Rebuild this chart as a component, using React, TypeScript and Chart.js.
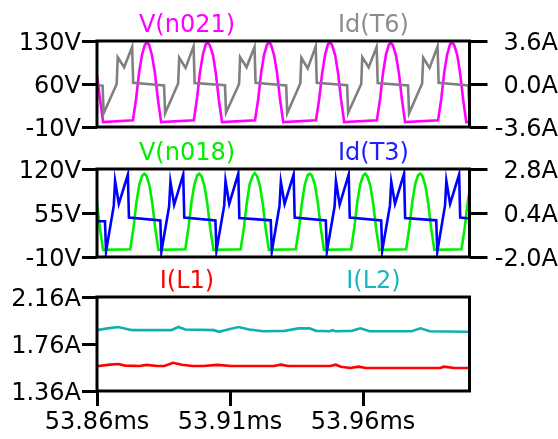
import React, { useEffect, useRef } from 'react';
import { Chart, registerables } from 'chart.js';

Chart.register(...registerables);

// ---------- data (time in microseconds) ----------
const X_MIN = 53860;
const X_MAX = 54000;
const TIME_TICKS = [53860, 53910, 53960];
const TIME_TICK_LABELS = ['53.86ms', '53.91ms', '53.96ms'];

const V_N021_TICKS = [-10, 60, 130];
const V_N021_TICK_LABELS = ['-10V', '60V', '130V'];
const ID_T6_TICKS = [-3.6, 0, 3.6];
const ID_T6_TICK_LABELS = ['-3.6A', '0.0A', '3.6A'];
const V_N018_TICKS = [-10, 55, 120];
const V_N018_TICK_LABELS = ['-10V', '55V', '120V'];
const ID_T3_TICKS = [-2.0, 0.4, 2.8];
const ID_T3_TICK_LABELS = ['-2.0A', '0.4A', '2.8A'];
const I_L_TICKS = [1.36, 1.76, 2.16];
const I_L_TICK_LABELS = ['1.36A', '1.76A', '2.16A'];

const V_N021_T = [
  53860.0, 53861.0, 53862.3,
  53873.5, 53874.7, 53875.8, 53876.9, 53878.0, 53878.8, 53879.6, 53880.7, 53881.8, 53882.9, 53884.1,
  53896.4, 53897.6, 53898.7, 53899.8, 53900.9, 53901.7, 53902.4, 53903.6, 53904.7, 53905.8, 53907.0,
  53919.4, 53920.6, 53921.7, 53922.8, 53923.9, 53924.7, 53925.4, 53926.6, 53927.7, 53928.8, 53930.0,
  53942.3, 53943.5, 53944.6, 53945.7, 53946.8, 53947.6, 53948.3, 53949.5, 53950.6, 53951.7, 53952.9,
  53965.2, 53966.4, 53967.5, 53968.6, 53969.7, 53970.5, 53971.2, 53972.4, 53973.5, 53974.6, 53975.8,
  53988.2, 53989.4, 53990.5, 53991.6, 53992.7, 53993.5, 53994.2, 53995.4, 53996.5, 53997.6, 53998.8, 54000.0,
];
const V_N021_V = [
  74, 40, -2,
  1, 36, 78, 107, 124, 127, 124, 106, 77, 35, -2,
  1, 37, 79, 108, 125, 127, 123, 107, 76, 34, -2,
  1, 36, 78, 108, 124, 128, 124, 106, 77, 35, -2,
  1, 35, 77, 107, 125, 127, 124, 107, 78, 36, -2,
  1, 36, 78, 108, 124, 127, 123, 106, 77, 35, -2,
  1, 36, 79, 108, 125, 127, 124, 107, 77, 35, -2, -2,
];

const ID_T6_T = [
  53860.0,
  53862.1, 53862.5, 53867.4, 53867.8, 53870.2, 53873.2, 53873.6,
  53885.2, 53885.6, 53890.5, 53890.9, 53893.3, 53896.3, 53896.7,
  53908.1, 53908.5, 53913.4, 53913.8, 53916.2, 53919.2, 53919.6,
  53931.1, 53931.5, 53936.4, 53936.8, 53939.2, 53942.2, 53942.6,
  53954.0, 53954.4, 53959.3, 53959.7, 53962.1, 53965.1, 53965.5,
  53976.9, 53977.3, 53982.2, 53982.6, 53985.0, 53988.0, 53988.4,
  53999.6, 54000.0,
];
const ID_T6_V = [
  -0.1,
  -0.15, -2.45, 0.0, 2.25, 1.4, 3.1, 0.1,
  -0.12, -2.45, 0.05, 2.2, 1.35, 3.15, 0.08,
  -0.1, -2.4, 0.0, 2.25, 1.4, 3.1, 0.1,
  -0.12, -2.45, 0.05, 2.2, 1.3, 3.15, 0.1,
  -0.1, -2.4, 0.0, 2.25, 1.4, 3.1, 0.08,
  -0.12, -2.45, 0.05, 2.2, 1.35, 3.15, 0.1,
  -0.12, -2.4,
];

const V_N018_T = [
  53860.0, 53861.1, 53862.3,
  53872.5, 53873.7, 53874.8, 53875.9, 53877.0, 53877.8, 53878.6, 53879.7, 53880.8, 53881.9, 53883.1,
  53893.2, 53894.4, 53895.5, 53896.6, 53897.7, 53898.5, 53899.3, 53900.4, 53901.5, 53902.6, 53903.8,
  53914.0, 53915.2, 53916.3, 53917.4, 53918.5, 53919.3, 53920.1, 53921.2, 53922.3, 53923.4, 53924.6,
  53934.7, 53935.9, 53937.0, 53938.1, 53939.2, 53940.0, 53940.8, 53941.9, 53943.0, 53944.1, 53945.3,
  53955.5, 53956.7, 53957.8, 53958.9, 53960.0, 53960.8, 53961.6, 53962.7, 53963.8, 53964.9, 53966.1,
  53976.2, 53977.4, 53978.5, 53979.6, 53980.7, 53981.5, 53982.3, 53983.4, 53984.5, 53985.6, 53986.8,
  53997.0, 53998.2, 53999.3, 54000.4,
];
const V_N018_V = [
  70, 32, 0.5,
  1.5, 33, 70, 97, 110, 113, 110, 96, 69, 32, 0.5,
  1.5, 34, 71, 97, 111, 113, 109, 95, 68, 31, 0.5,
  1.5, 33, 70, 98, 110, 114, 110, 96, 69, 32, 0.5,
  1.5, 32, 69, 97, 111, 113, 110, 97, 70, 33, 0.5,
  1.5, 33, 70, 97, 110, 113, 109, 96, 69, 32, 0.5,
  1.5, 34, 71, 98, 111, 113, 110, 96, 69, 32, 0.5,
  1.5, 33, 70, 97,
];

const ID_T3_T = [
  53860.0,
  53863.0, 53863.4, 53866.3, 53866.8, 53868.2, 53871.6, 53872.0,
  53883.8, 53884.2, 53887.1, 53887.6, 53889.0, 53892.4, 53892.8,
  53904.5, 53904.9, 53907.8, 53908.3, 53909.7, 53913.1, 53913.5,
  53925.3, 53925.7, 53928.6, 53929.1, 53930.5, 53933.9, 53934.3,
  53946.0, 53946.4, 53949.3, 53949.8, 53951.2, 53954.6, 53955.0,
  53966.8, 53967.2, 53970.1, 53970.6, 53972.0, 53975.4, 53975.8,
  53987.5, 53987.9, 53990.8, 53991.3, 53992.7, 53996.1, 53996.5,
  54000.0,
];
const ID_T3_V = [
  -0.05,
  -0.05, -1.7, 0.8, 2.15, 0.9, 2.5, 0.15,
  0.0, -1.7, 0.75, 2.1, 0.85, 2.5, 0.15,
  0.0, -1.65, 0.8, 2.15, 0.9, 2.55, 0.12,
  0.0, -1.7, 0.8, 2.1, 0.9, 2.5, 0.15,
  0.0, -1.7, 0.75, 2.15, 0.85, 2.5, 0.15,
  0.0, -1.65, 0.8, 2.1, 0.9, 2.55, 0.12,
  0.0, -1.7, 0.8, 2.15, 0.9, 2.5, 0.15,
  0.1,
];

const I_L1_T = [
  53860.0, 53864.0, 53868.0, 53870.6, 53876.0, 53878.6, 53882.6, 53885.3, 53888.6, 53891.9,
  53895.9, 53899.9, 53905.2, 53910.5, 53926.5, 53929.1, 53931.8, 53947.7, 53949.7, 53951.7,
  53955.1, 53958.4, 53961.0, 53989.0, 53990.3, 53994.3, 53998.9, 54000.0,
];
const I_L1_V = [
  1.570, 1.582, 1.590, 1.576, 1.573, 1.582, 1.573, 1.573, 1.600, 1.584,
  1.573, 1.573, 1.582, 1.573, 1.573, 1.584, 1.573, 1.573, 1.584, 1.567,
  1.556, 1.567, 1.556, 1.556, 1.567, 1.556, 1.556, 1.556,
];

const I_L2_T = [
  53860.0, 53864.0, 53868.0, 53872.0, 53873.3, 53887.9, 53890.6, 53893.2, 53903.9, 53905.9,
  53909.2, 53913.2, 53917.2, 53922.5, 53930.5, 53935.8, 53939.8, 53942.4, 53947.7, 53948.4,
  53949.7, 53955.7, 53959.0, 53962.4, 53978.3, 53981.6, 53985.0, 53998.9, 54000.0,
];
const I_L2_V = [
  1.878, 1.893, 1.905, 1.884, 1.878, 1.878, 1.905, 1.884, 1.878, 1.864,
  1.884, 1.905, 1.884, 1.869, 1.872, 1.893, 1.893, 1.872, 1.869, 1.878,
  1.869, 1.872, 1.893, 1.869, 1.869, 1.893, 1.869, 1.864, 1.864,
];

// ---------- layout & style ----------
const W = 558;
const H = 439;
const FONT = '"DejaVu Sans", Verdana, sans-serif';
const FONT_SIZE = 24;
const PLOT_LEFT = 97;
const PLOT_RIGHT = 469.5;
const LEFT_TITLE_X = 187;
const RIGHT_TITLE_X = 373.5;

const pts = (t: number[], v: number[]) => t.map((x, i) => ({ x, y: v[i] }));

const framePlugin = {
  id: 'paneFrame',
  afterDraw(chart: any, _args: any, opts: any) {
    const { ctx, chartArea: a } = chart;
    ctx.save();
    ctx.strokeStyle = '#000';
    ctx.lineWidth = 3;
    ctx.strokeRect(a.left, a.top, a.right - a.left, a.bottom - a.top);
    ctx.font = `${FONT_SIZE}px ${FONT}`;
    ctx.textAlign = 'center';
    ctx.textBaseline = 'alphabetic';
    (opts.titles || []).forEach((t: any) => {
      ctx.fillStyle = t.color;
      ctx.fillText(t.text, t.x, a.top - 9.5);
    });
    ctx.restore();
  },
};

function yAxis(side: 'left' | 'right', min: number, max: number, ticks: number[], labels: string[]) {
  return {
    type: 'linear',
    position: side,
    min,
    max,
    afterBuildTicks: (s: any) => {
      s.ticks = ticks.map((v) => ({ value: v }));
    },
    afterFit: (s: any) => {
      s.width = side === 'left' ? PLOT_LEFT : W - PLOT_RIGHT;
    },
    ticks: {
      autoSkip: false,
      padding: side === 'left' ? 1 : 2,
      labelOffset: 3,
      crossAlign: side === 'left' ? 'near' : 'far',
      color: '#000',
      font: { family: FONT, size: FONT_SIZE },
      callback: (_v: any, i: number) => labels[i],
    },
    grid: {
      drawOnChartArea: false,
      drawTicks: true,
      tickLength: side === 'left' ? 15 : 18,
      tickWidth: 3,
      lineWidth: 3,
      tickColor: '#000',
      color: '#000',
    },
    border: { display: false },
  };
}

function xAxis(show: boolean) {
  return {
    type: 'linear',
    min: X_MIN,
    max: X_MAX,
    display: show,
    afterBuildTicks: (s: any) => {
      s.ticks = TIME_TICKS.map((v) => ({ value: v }));
    },
    afterFit: (s: any) => {
      s.height = show ? 48 : 0;
    },
    ticks: {
      autoSkip: false,
      maxRotation: 0,
      minRotation: 0,
      padding: 2,
      color: '#000',
      font: { family: FONT, size: FONT_SIZE },
      callback: (_v: any, i: number) => TIME_TICK_LABELS[i],
    },
    grid: {
      drawOnChartArea: false,
      drawTicks: true,
      tickLength: 15,
      tickWidth: 3,
      lineWidth: 3,
      tickColor: '#000',
      color: '#000',
    },
    border: { display: false },
  };
}

function line(data: any[], color: string, axis: string, order: number) {
  return {
    data,
    borderColor: color,
    backgroundColor: color,
    borderWidth: 2.6,
    pointRadius: 0,
    tension: 0,
    fill: false,
    yAxisID: axis,
    order,
  };
}

function makeConfig(pane: number): any {
  const common = {
    responsive: false,
    animation: false,
    devicePixelRatio: 1,
    events: [],
  };
  const basePlugins = { legend: { display: false }, tooltip: { enabled: false } };
  if (pane === 1) {
    return {
      type: 'line',
      data: {
        datasets: [
          line(pts(V_N021_T, V_N021_V), '#ff00ff', 'y', 1),
          line(pts(ID_T6_T, ID_T6_V), '#808080', 'y1', 0),
        ],
      },
      options: {
        ...common,
        layout: { padding: { top: 41, bottom: H - 127, left: 0, right: 0 } },
        scales: {
          x: xAxis(false),
          y: yAxis('left', -10, 130, V_N021_TICKS, V_N021_TICK_LABELS),
          y1: yAxis('right', -3.6, 3.6, ID_T6_TICKS, ID_T6_TICK_LABELS),
        },
        plugins: {
          ...basePlugins,
          paneFrame: {
            titles: [
              { text: 'V(n021)', color: '#ff00ff', x: LEFT_TITLE_X },
              { text: 'Id(T6)', color: '#8c8c8c', x: RIGHT_TITLE_X },
            ],
          },
        },
      },
      plugins: [framePlugin],
    };
  }
  if (pane === 2) {
    return {
      type: 'line',
      data: {
        datasets: [
          line(pts(V_N018_T, V_N018_V), '#00ee00', 'y', 1),
          line(pts(ID_T3_T, ID_T3_V), '#0000ff', 'y1', 0),
        ],
      },
      options: {
        ...common,
        layout: { padding: { top: 169, bottom: H - 257, left: 0, right: 0 } },
        scales: {
          x: xAxis(false),
          y: yAxis('left', -10, 120, V_N018_TICKS, V_N018_TICK_LABELS),
          y1: yAxis('right', -2.0, 2.8, ID_T3_TICKS, ID_T3_TICK_LABELS),
        },
        plugins: {
          ...basePlugins,
          paneFrame: {
            titles: [
              { text: 'V(n018)', color: '#00ee00', x: LEFT_TITLE_X },
              { text: 'Id(T3)', color: '#2020ff', x: RIGHT_TITLE_X },
            ],
          },
        },
      },
      plugins: [framePlugin],
    };
  }
  return {
    type: 'line',
    data: {
      datasets: [
        line(pts(I_L1_T, I_L1_V), '#ff0000', 'y', 1),
        line(pts(I_L2_T, I_L2_V), '#10b0b0', 'y', 0),
      ],
    },
    options: {
      ...common,
      layout: { padding: { top: 297, bottom: 0, left: 0, right: W - PLOT_RIGHT } },
      scales: {
        x: xAxis(true),
        y: yAxis('left', 1.36, 2.16, I_L_TICKS, I_L_TICK_LABELS),
      },
      plugins: {
        ...basePlugins,
        paneFrame: {
          titles: [
            { text: 'I(L1)', color: '#ff0000', x: LEFT_TITLE_X },
            { text: 'I(L2)', color: '#18b8c0', x: RIGHT_TITLE_X },
          ],
        },
      },
    },
    plugins: [framePlugin],
  };
}

const canvasStyle: React.CSSProperties = { position: 'absolute', left: 0, top: 0 };

export default function App() {
  const r1 = useRef<HTMLCanvasElement | null>(null);
  const r2 = useRef<HTMLCanvasElement | null>(null);
  const r3 = useRef<HTMLCanvasElement | null>(null);

  useEffect(() => {
    const charts: Chart[] = [];
    [r1, r2, r3].forEach((r, i) => {
      if (r.current) charts.push(new Chart(r.current, makeConfig(i + 1)));
    });
    return () => charts.forEach((c) => c.destroy());
  }, []);

  return (
    <div style={{ position: 'absolute', left: 0, top: 0, width: W, height: H, background: '#fff' }}>
      <canvas ref={r1} width={W} height={H} style={canvasStyle} />
      <canvas ref={r2} width={W} height={H} style={canvasStyle} />
      <canvas ref={r3} width={W} height={H} style={canvasStyle} />
    </div>
  );
}
